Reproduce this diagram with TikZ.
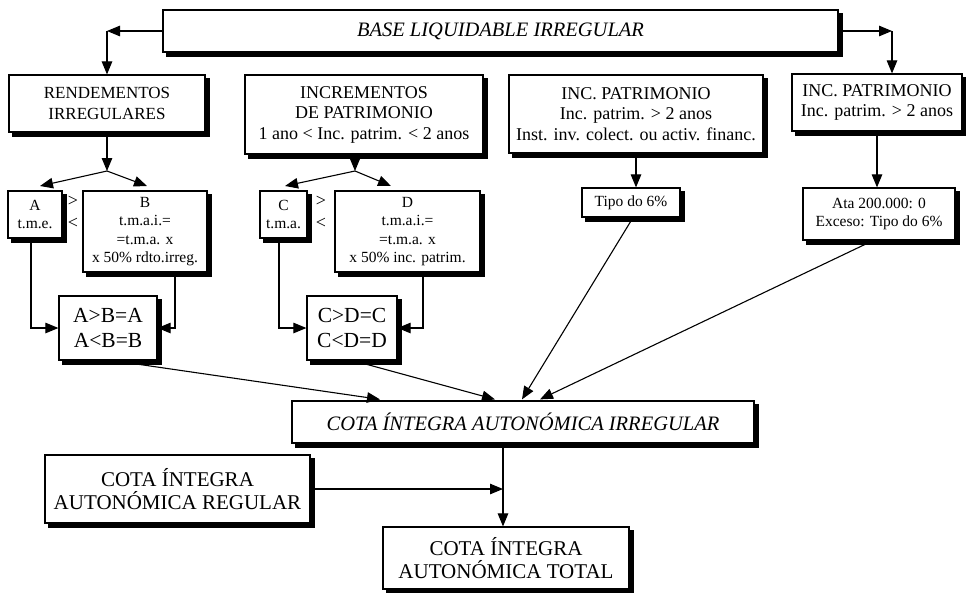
\documentclass[tikz,border=0pt]{standalone}
\usepackage{fontspec}
\setmainfont{Liberation Serif}
\usetikzlibrary{arrows.meta,calc}
\begin{document}
\begin{tikzpicture}[x=1pt,y=-1pt,
  box/.style={draw=black,line width=1.2pt,fill=white,inner sep=0pt,align=center},
  shadowline/.style={draw=black,line width=3.5pt,line cap=butt,line join=miter},
  arr/.style={line width=1.1pt,-{Triangle[length=13pt,width=10.5pt]}},
  fmain/.style={font=\fontsize{18}{20.5}\selectfont},
  fsmall/.style={font=\fontsize{15.5}{18.5}\selectfont},
  fbig/.style={font=\fontsize{21.5}{25}\selectfont},
  fcota/.style={font=\fontsize{21}{23}\selectfont},
  sign/.style={inner sep=0pt,font=\fontsize{18}{20}\selectfont}]
\fill[white] (0,0) rectangle (966,592);
\path[use as bounding box] (0,0) rectangle (966,592);
% boxes
\node[box,font=\fontsize{20.5}{22}\selectfont\itshape,minimum width=675pt,minimum height=42pt] (base) at (500.5,31) {BASE LIQUIDABLE IRREGULAR};
\node[box,font=\fontsize{17}{20.5}\selectfont,minimum width=196pt,minimum height=57pt] (rend) at (107,103.5) {RENDEMENTOS\\IRREGULARES};
\node[box,fmain,minimum width=238pt,minimum height=79pt] (incr) at (364,114.5) {INCREMENTOS\\DE PATRIMONIO\\1 ano < Inc. patrim. < 2 anos};
\node[box,fmain,minimum width=254pt,minimum height=78pt] (incm) at (636,114) {INC. PATRIMONIO\\Inc. patrim. > 2 anos\\Inst. inv. colect. ou activ. financ.};
\node[box,fmain,minimum width=170pt,minimum height=57pt] (incx) at (877,102.5) {INC. PATRIMONIO\\Inc. patrim. > 2 anos};
\node[box,fsmall,minimum width=54pt,minimum height=47pt] (A) at (35,214.5) {A\\t.m.e.};
\node[box,fsmall,minimum width=124pt,minimum height=81pt] (B) at (145,231.5) {B\\t.m.a.i.=\\=t.m.a. x\\x 50\% rdto.irreg.};
\node[box,fsmall,minimum width=47pt,minimum height=47pt] (C) at (283.5,214.5) {C\\t.m.a.};
\node[box,fsmall,minimum width=145pt,minimum height=81pt] (D) at (407.5,231.5) {D\\t.m.a.i.=\\=t.m.a. x\\x 50\% inc. patrim.};
\node[sign] (gtAB) at (73,201) {>};
\node[sign] (ltAB) at (73,223) {<};
\node[sign] (gtCD) at (321,201) {>};
\node[sign] (ltCD) at (321,223) {<};
\node[box,fbig,minimum width=98pt,minimum height=64pt] (AB) at (108,328) {A>B=A\\A<B=B};
\node[box,fbig,minimum width=90pt,minimum height=64pt] (CD) at (352,328) {C>D=C\\C<D=D};
\node[box,fsmall,minimum width=98pt,minimum height=29pt] (tipo) at (631,202.5) {Tipo do 6\%};
\node[box,fsmall,minimum width=152pt,minimum height=52pt] (ata) at (879,214) {Ata 200.000: 0\\Exceso: Tipo do 6\%};
\node[box,font=\fontsize{20.5}{23}\selectfont\itshape,minimum width=462pt,minimum height=42pt] (irr) at (523,422) {COTA ÍNTEGRA AUTONÓMICA IRREGULAR};
\node[box,fcota,minimum width=265pt,minimum height=68pt] (reg) at (177.5,489) {COTA ÍNTEGRA\\AUTONÓMICA REGULAR};
\node[box,fcota,minimum width=246pt,minimum height=62pt] (tot) at (506,558) {COTA ÍNTEGRA\\AUTONÓMICA TOTAL};
% shadows (right and bottom bands)
\foreach \n in {base,rend,incr,incm,incx,A,B,C,D,AB,CD,tipo,ata,irr,reg,tot}
  \draw[shadowline] ($(\n.north east)+(2.35,4)$) -- ($(\n.south east)+(2.35,2.35)$) -- ($(\n.south west)+(4,2.35)$);
% connectors
\coordinate (cL) at (rend.north |- base.west);
\coordinate (cR) at ($(incx.north |- base.east)+(15,0)$);
\draw[arr] (base.west) -- (cL);
\draw[arr] (cL) -- (rend.north);
\draw[arr] (base.east) -- (cR);
\draw[arr] (cR) -- (cR |- incx.north);
\coordinate (s1) at (107,171);
\coordinate (tA) at (40,186);
\coordinate (tB) at (147,186);
\draw[arr] (rend.south) -- (s1);
\draw[arr] (s1) -- (tA);
\draw[arr] (s1) -- (tB);
\coordinate (s2) at (355,171);
\coordinate (tC) at (285,186);
\coordinate (tD) at (391,186);
\draw[arr] (incr.south -| s2) -- (s2);
\draw[arr] (s2) -- (tC);
\draw[arr] (s2) -- (tD);
\draw[arr] ([xshift=-4pt]A.south) |- (AB.west);
\draw[arr] ([xshift=30pt]B.south) |- (AB.east);
\draw[arr] ([xshift=-4.5pt]C.south) |- (CD.west);
\draw[arr] ([xshift=15.5pt]D.south) |- (CD.east);
\draw[arr] (incm.south) -- (incm.south |- tipo.north);
\draw[arr] (incx.south) -- (incx.south |- ata.north);
\draw[arr] ([xshift=5pt]AB.south) -- ($(irr.north)+(-143,-1)$);
\draw[arr] ([xshift=1pt]CD.south) -- ($(irr.north)+(-28,-1)$);
\draw[arr] ([xshift=2pt]tipo.south) -- ($(irr.north)+(-1,-1)$);
\draw[arr] ([xshift=-6pt]ata.south) -- ($(irr.north)+(17,-1)$);
\coordinate (vx) at ([xshift=-20pt]irr.south);
\draw[arr] (vx) -- (vx |- tot.north);
\draw[arr] (reg.east) -- (reg.east -| vx);
\end{tikzpicture}
\end{document}
